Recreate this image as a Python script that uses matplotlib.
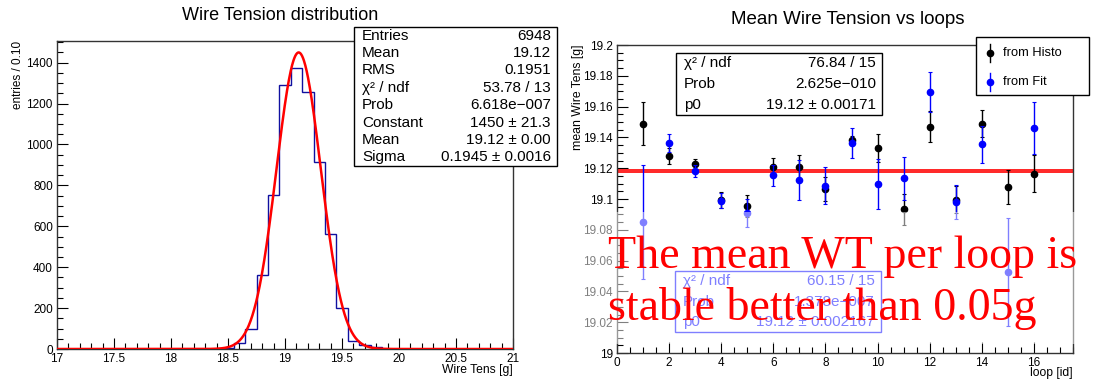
import numpy as np
import matplotlib
matplotlib.use("Agg")
import matplotlib.pyplot as plt
from matplotlib.patches import Rectangle
from matplotlib.lines import Line2D
from matplotlib.ticker import MultipleLocator, FuncFormatter

plt.rcParams['font.family'] = ['Liberation Sans', 'DejaVu Sans']

# ---- left panel: wire tension histogram ----
hist_lo = 18.45
bin_width = 0.1
hist_counts = [3, 31, 96, 361, 753, 1291, 1376, 1258, 913, 560, 199, 39, 21, 8]
gaus_const = 1450
gaus_mean = 19.12
gaus_sigma = 0.1945

left_stats = [("Entries", "6948"), ("Mean", "19.12"), ("RMS", "0.1951"),
              ("χ² / ndf", "53.78 / 13"), ("Prob", "6.618e−007"),
              ("Constant", "1450 ± 21.3"), ("Mean", "19.12 ± 0.00"),
              ("Sigma", "0.1945 ± 0.0016")]

# ---- right panel: mean tension per loop ----
loops = list(range(1, 17))
histo_mean = [19.149, 19.128, 19.1225, 19.0994, 19.0955, 19.1205, 19.1206, 19.1065,
              19.138, 19.1333, 19.0933, 19.147, 19.0996, 19.149, 19.1078, 19.1165]
histo_err = [0.014, 0.005, 0.0035, 0.005, 0.007, 0.006, 0.008, 0.0075,
             0.003, 0.009, 0.010, 0.010, 0.009, 0.0085, 0.011, 0.012]
fit_mean = [19.0848, 19.1364, 19.1182, 19.0989, 19.0907, 19.1154, 19.1123, 19.1087,
            19.1364, 19.1097, 19.1134, 19.1697, 19.0983, 19.1357, 19.0528, 19.1459]
fit_err = [0.037, 0.006, 0.004, 0.005, 0.009, 0.007, 0.013, 0.012,
           0.010, 0.016, 0.014, 0.013, 0.011, 0.012, 0.035, 0.017]
p0_histo = 19.1190
p0_fit = 19.1175

histo_stats = [("χ² / ndf", "76.84 / 15"), ("Prob", "2.625e−010"), ("p0", "19.12 ± 0.00171")]
fit_stats = [("χ² / ndf", "60.15 / 15"), ("Prob", "1.378e−007"), ("p0", "19.12 ± 0.002167")]

W, H = 1095, 385
fig = plt.figure(figsize=(W / 100, H / 100), dpi=100)


def fx(px):
    return px / W


def fy(py):
    return 1 - py / H


def root_axes(ax):
    ax.tick_params(which='both', direction='in', top=False, right=False,
                   labelsize=8.5, color='black', width=0.8, pad=3)
    ax.tick_params(which='major', length=8)
    ax.tick_params(which='minor', length=4)
    for s in ax.spines.values():
        s.set_color('#333333')
        s.set_linewidth(1.0)


def stats_box(x0, y0, x1, y1, rows, color='black', fs=11):
    fig.add_artist(Rectangle((fx(x0), fy(y1)), fx(x1) - fx(x0), fy(y0) - fy(y1),
                             transform=fig.transFigure, facecolor='white',
                             edgecolor=color, lw=1.0, zorder=2))
    step = (y1 - y0) / len(rows)
    for i, (k, v) in enumerate(rows):
        yc = y0 + step * (i + 0.5)
        fig.text(fx(x0 + 8), fy(yc), k, ha='left', va='center', fontsize=fs,
                 color=color, zorder=3)
        fig.text(fx(x1 - 6), fy(yc), v, ha='right', va='center', fontsize=fs,
                 color=color, zorder=3)


# left axes
ax1 = fig.add_axes([fx(57), fy(349), fx(513) - fx(57), fy(41) - fy(349)])
edges = hist_lo + bin_width * np.arange(len(hist_counts) + 1)
ax1.stairs(hist_counts, edges, color='#1010a0', lw=1.0, zorder=2)
xs = np.linspace(17, 21, 1000)
ax1.plot(xs, gaus_const * np.exp(-0.5 * ((xs - gaus_mean) / gaus_sigma) ** 2),
         color='red', lw=1.8, zorder=3)
ax1.set_xlim(17, 21)
ax1.set_ylim(0, 1506)
ax1.xaxis.set_major_locator(MultipleLocator(0.5))
ax1.xaxis.set_minor_locator(MultipleLocator(0.1))
ax1.yaxis.set_major_locator(MultipleLocator(200))
ax1.yaxis.set_minor_locator(MultipleLocator(50))
ax1.xaxis.set_major_formatter(FuncFormatter(lambda v, p: '%g' % v))
root_axes(ax1)

fig.text(fx(280), fy(15), 'Wire Tension distribution', ha='center', va='center', fontsize=13)
fig.text(fx(513), fy(370), 'Wire Tens [g]', ha='right', va='center', fontsize=8.7)
fig.text(fx(18), fy(41), 'entries / 0.10', rotation=90, ha='center', va='top', fontsize=8.5)
stats_box(354, 27, 557, 166, left_stats)

# right axes
ax2 = fig.add_axes([fx(617), fy(353), fx(1073) - fx(617), fy(45) - fy(353)])
ax2.axhline(p0_histo, color='red', lw=1.2, zorder=2)
ax2.axhline(p0_fit, color='red', lw=1.2, zorder=2)
ax2.errorbar(loops, histo_mean, yerr=histo_err, fmt='o', color='black', ms=4.5,
             elinewidth=1.0, capsize=1.5, capthick=0.8, zorder=3)
ax2.errorbar(loops, fit_mean, yerr=fit_err, fmt='o', color='#0000ff', ms=4.5,
             elinewidth=1.0, capsize=1.5, capthick=0.8, zorder=4)
ax2.set_xlim(0, 17.5)
ax2.set_ylim(19.0, 19.2)
ax2.xaxis.set_major_locator(MultipleLocator(2))
ax2.xaxis.set_minor_locator(MultipleLocator(0.5))
ax2.yaxis.set_major_locator(MultipleLocator(0.02))
ax2.yaxis.set_minor_locator(MultipleLocator(0.005))
ax2.yaxis.set_major_formatter(FuncFormatter(lambda v, p: '%g' % round(v, 3)))
root_axes(ax2)

fig.text(fx(848), fy(19), 'Mean Wire Tension vs loops', ha='center', va='center', fontsize=13.5)
fig.text(fx(1073), fy(373), 'loop [id]', ha='right', va='center', fontsize=8.7)
fig.text(fx(578), fy(45), 'mean Wire Tens [g]', rotation=90, ha='center', va='top', fontsize=8.8)
stats_box(676, 53, 882, 115, histo_stats)
stats_box(675, 271, 881, 332, fit_stats, color='#0000ff')

# legend
fig.add_artist(Rectangle((fx(976), fy(95)), fx(1089) - fx(976), fy(37) - fy(95),
                         transform=fig.transFigure, facecolor='white',
                         edgecolor='black', lw=1.0, zorder=2))
for yc, col, lab in [(53, 'black', 'from Histo'), (82, '#0000ff', 'from Fit')]:
    fig.add_artist(Line2D([fx(990), fx(990)], [fy(yc - 9), fy(yc + 9)],
                          transform=fig.transFigure, color=col, lw=1.0, zorder=3))
    fig.add_artist(Line2D([fx(990)], [fy(yc)], transform=fig.transFigure, marker='o',
                          ms=4.5, color=col, zorder=3))
    fig.text(fx(1003), fy(yc), lab, ha='left', va='center', fontsize=9.3, zorder=3)

# slide overlay with the red comment
fig.add_artist(Rectangle((fx(580), fy(344)), fx(1088) - fx(580), fy(212) - fy(344),
                         transform=fig.transFigure, facecolor='white', alpha=0.5,
                         edgecolor='none', zorder=5))
fig.text(fx(608), fy(268), 'The mean WT per loop is', fontfamily='Liberation Serif',
         fontsize=33, color='red', ha='left', va='baseline', zorder=6)
fig.text(fx(608), fy(320), 'stable better than 0.05g', fontfamily='Liberation Serif',
         fontsize=33, color='red', ha='left', va='baseline', zorder=6)

fig.savefig('out.png', dpi=100)
